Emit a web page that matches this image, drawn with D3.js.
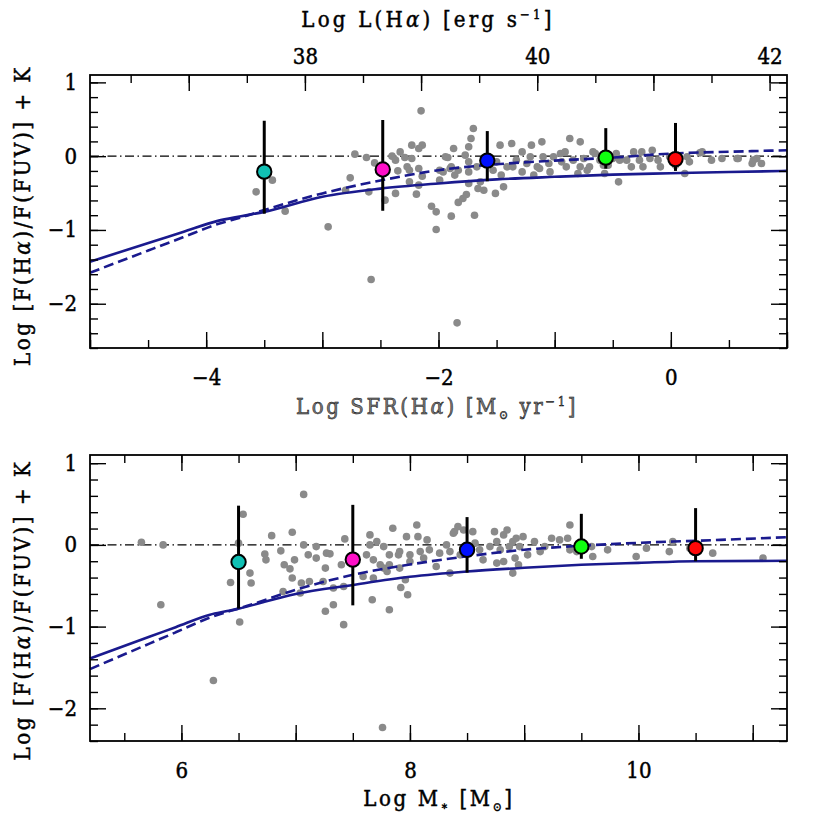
<!DOCTYPE html>
<html><head><meta charset="utf-8">
<script src="https://cdn.jsdelivr.net/npm/d3@7"></script>
<style>body{margin:0;background:#fff}svg{display:block}text{font-family:"DejaVu Serif Condensed","DejaVu Serif",serif}</style>
</head><body><svg id="c" width="830" height="830"></svg>
<script>
// ---- data ----
const binSFR  = [-3.50, -2.48, -1.58, -0.56, 0.04];
const binMass = [6.5, 7.5, 8.5, 9.5, 10.5];
const binMean = [-0.21, -0.18, -0.06, -0.02, -0.04];
const binHigh = [0.48, 0.49, 0.34, 0.38, 0.45];
const binLow  = [-0.78, -0.74, -0.34, -0.17, -0.20];
const binColors = ["#10c0b4", "#ff10c8", "#0010ff", "#10ff10", "#ff0808"];

// galaxies: [log SFR, log ratio]
const galSFR = [
[-3.43,-0.325],[-3.57,-0.484],[-3.32,-0.745],[-2.95,-0.958],[-2.72,0.027],[-2.62,-0.018],[-2.76,-0.294],[-2.80,-0.461],
[-2.60,-0.484],[-2.58,-1.671],[-2.55,-0.091],[-2.46,-0.596],[-2.15,0.614],[-2.23,0.149],[-2.14,0.149],[-2.17,0.104],
[-2.40,0.0],[-2.33,0.058],[-2.29,-0.018],[-2.37,-0.054],[-2.23,-0.031],[-2.35,-0.199],[-2.25,-0.19],[-2.17,-0.167],
[-2.14,-0.271],[-2.25,-0.348],[-2.17,-0.393],[-2.37,-0.505],[-2.19,-0.515],[-2.06,-0.678],[-2.02,-0.755],[-2.02,-0.993],
[-1.89,-0.813],[-1.83,-0.627],[-1.87,0.104],[-1.92,-0.018],[-1.99,-0.19],[-1.90,-0.167],[-1.99,-0.325],[-1.84,-2.259],
[-2.27,-0.145],[-1.79,-0.573],[-1.76,-0.519],[-1.69,-0.80],[-1.70,0.375],[-1.72,0.24],[-1.74,0.126],[-1.77,0.014],
[-1.74,-0.077],[-1.67,-0.145],[-1.74,-0.213],[-1.64,-0.348],[-1.66,-0.438],[-1.61,-0.461],[-1.74,-0.37],[-1.51,-0.505],
[-1.44,-0.416],[-1.46,-0.257],[-1.53,-0.19],[-1.47,0.149],[-1.37,0.172],[-1.50,-0.077],[-1.41,-0.145],[-1.36,-0.145],
[-1.28,0.058],[-1.33,-0.054],[-1.20,0.149],[-1.21,-0.009],[-1.24,-0.099],[-1.15,-0.145],[-1.18,-0.257],[-1.28,-0.213],
[-1.11,0.194],[-1.10,-0.009],[-1.05,-0.099],[-1.01,-0.009],[-0.94,-0.077],[-0.90,-0.145],[-0.87,0.24],[-0.95,0.037],
[-1.04,-0.213],[-1.13,-0.167],[-1.86,-0.257],[-1.83,-0.19],[-1.94,-0.009],[-1.89,-0.145],[-1.96,-0.213],[-0.78,0.194],
[-0.91,0.058],[-0.84,-0.054],[-0.78,-0.145],[-0.80,-0.235],[-0.67,0.058],[-0.47,0.037],[-0.45,-0.348],[-0.38,-0.054],
[-0.34,-0.145],[-0.25,0.058],[-0.27,-0.054],[-0.16,0.081],[-0.18,-0.031],[-0.11,-0.054],[-0.09,-0.145],[0.12,-0.235],
[0.16,-0.077],[0.27,0.058],[0.35,-0.054],[0.44,-0.031],[0.57,-0.031],[0.70,-0.099],[0.78,-0.099],[0.74,-0.031],
[-0.57,-0.235],[-0.75,-0.031],[-0.72,-0.19],[-0.70,-0.145],[-0.58,-0.122],[-0.50,-0.031],[-0.24,-0.145],[-0.01,-0.009],
[0.14,-0.009],[0.25,0.045],[0.58,-0.031],[0.71,-0.054],[-0.65,0.037],[-0.44,-0.054],[-0.32,0.058],[-0.61,-0.054],
[-0.54,-0.122],[0.04,-0.122]
];
// galaxies: [log M*, log ratio]
const galMass = [
[5.65,0.033],[5.84,0.0],[5.82,-0.732],[6.28,-1.659],[6.54,0.374],[6.50,0.021],[6.43,-0.46],[6.61,-0.467],[6.60,-0.345],
[6.51,-0.943],[6.79,0.113],[6.97,0.155],[6.73,-0.113],[6.74,-0.183],[6.87,-0.073],[6.90,-0.244],[6.95,-0.293],[6.99,-0.183],
[6.97,-0.406],[6.89,-0.57],[7.07,0.618],[7.07,0.0],[7.11,-0.122],[7.18,-0.021],[7.18,-0.162],[7.05,-0.467],[7.12,-0.448],
[7.04,-0.589],[7.24,-0.448],[7.27,-0.101],[7.30,-0.11],[7.26,-0.284],[7.33,-0.528],[7.26,-0.813],[7.42,-0.976],[7.40,-0.244],
[7.43,0.073],[7.42,-0.509],[7.33,-0.732],[7.67,-0.671],[7.82,-0.793],[7.92,-0.521],[7.98,-0.61],[7.76,-2.235],[7.65,0.122],
[7.71,0.04],[7.77,-0.021],[7.85,0.204],[7.97,0.101],[8.06,0.244],[8.07,0.101],[8.15,0.061],[7.62,-0.122],[7.68,-0.183],
[7.74,-0.244],[7.82,-0.122],[7.91,-0.082],[8.00,-0.122],[8.09,-0.082],[8.17,-0.061],[8.26,-0.101],[8.32,0.0],[8.38,0.143],
[7.65,0.0],[7.77,-0.284],[7.91,-0.284],[8.00,-0.204],[8.12,-0.162],[8.23,-0.265],[7.68,-0.406],[7.80,-0.326],[7.96,-0.427],
[7.90,-0.122],[7.82,-0.244],[7.59,-0.387],[8.35,-0.082],[8.39,0.162],[8.42,0.223],[8.35,-0.345],[8.44,-0.122],
[8.47,0.183],[8.55,0.162],[8.57,0.021],[8.61,-0.061],[8.64,-0.183],[8.70,-0.021],[8.74,0.162],[8.76,0.04],[8.79,-0.061],
[8.82,0.122],[8.85,0.183],[8.87,-0.021],[8.90,0.04],[8.93,0.082],[8.96,-0.021],[8.99,0.101],[8.92,-0.162],[8.95,-0.244],
[8.82,-0.204],[8.76,-0.223],[8.90,-0.345],[9.03,-0.122],[9.09,0.04],[9.14,-0.082],[9.18,-0.021],[9.24,0.082],[9.31,0.061],
[9.40,0.244],[9.38,0.082],[9.40,-0.061],[9.59,-0.021],[9.60,-0.143],[9.73,-0.061],[9.98,-0.143],[10.07,-0.04],[10.27,-0.082],
[10.30,0.04],[10.45,-0.04],[10.65,-0.101],[11.09,-0.162],[9.46,-0.082]
];
// model curves
const modelSFRx      = [-5.0, -4.45, -4.2, -3.9, -3.7, -3.5, -3.0, -2.5, -2.0, -1.5, -1.0, -0.5, 0.0, 0.5, 1.0];
const modelSFRsolid  = [-1.43, -1.153, -1.028, -0.877, -0.815, -0.755, -0.55, -0.44, -0.37, -0.315, -0.28, -0.25, -0.232, -0.215, -0.20];
const modelSFRdashed = [-1.58, -1.25, -1.10, -0.92, -0.83, -0.73, -0.505, -0.33, -0.19, -0.11, -0.06, -0.02, 0.035, 0.06, 0.08];
const modelMx        = [5.2, 5.725, 5.95, 6.25, 6.4, 6.5, 7.0, 7.5, 8.0, 8.5, 9.0, 9.5, 10.0, 10.5, 11.3];
const modelMsolid    = [-1.39, -1.122, -1.007, -0.854, -0.81, -0.78, -0.6, -0.49, -0.39, -0.325, -0.28, -0.244, -0.22, -0.20, -0.195];
const modelMdashed   = [-1.52, -1.205, -1.07, -0.89, -0.82, -0.78, -0.55, -0.366, -0.24, -0.14, -0.06, -0.01, 0.025, 0.05, 0.094];

// axis tick labels
const sfrTickLabels  = [-4, -2, 0];
const lumTickLabels  = [38, 40, 42];
const massTickLabels = [6, 8, 10];
const yTickLabels    = [1, 0, -1, -2];

// ---- drawing ----
const FONT = '"DejaVu Serif Condensed","DejaVu Serif",serif';
const svg = d3.select("#c");
const fmt = d => (d < 0 ? "\u2212" + Math.abs(d) : String(d));
const navy = "#1a1a8e";
const heavy = sel => sel.attr("stroke", "currentColor").attr("stroke-width", 0.45);

function panel(o) {
  const x = d3.scaleLinear().domain(o.xdom).range([90, 787]);
  const y = d3.scaleLinear().domain(o.ydom).range([o.bottom, o.top]);
  const g = svg.append("g");

  g.append("line").attr("x1", x.range()[0]).attr("x2", x.range()[1])
    .attr("y1", y(0)).attr("y2", y(0)).attr("stroke", "#000").attr("stroke-width", 1.3)
    .attr("stroke-dasharray", "9,3.5,1.5,3.5");

  g.selectAll("circle.gal").data(o.gal).join("circle").attr("class", "gal")
    .attr("cx", d => x(d[0])).attr("cy", d => y(d[1])).attr("r", 3.8).attr("fill", "#8a8a8a");

  const line = d3.line().x(d => x(d[0])).y(d => y(d[1])).curve(d3.curveMonotoneX);
  g.append("path").attr("d", line(o.mx.map((v, i) => [v, o.ms[i]])))
    .attr("fill", "none").attr("stroke", navy).attr("stroke-width", 2.6);
  g.append("path").attr("d", line(o.mx.map((v, i) => [v, o.md[i]])))
    .attr("fill", "none").attr("stroke", navy).attr("stroke-width", 2.6).attr("stroke-dasharray", "10,5");

  o.bx.forEach((bx, i) => {
    g.append("line").attr("x1", x(bx)).attr("x2", x(bx)).attr("y1", y(binHigh[i])).attr("y2", y(binLow[i]))
      .attr("stroke", "#000").attr("stroke-width", 3);
  });
  o.bx.forEach((bx, i) => {
    g.append("circle").attr("cx", x(bx)).attr("cy", y(binMean[i])).attr("r", 7.2)
      .attr("fill", binColors[i]).attr("stroke", "#000").attr("stroke-width", 2);
  });

  const noLab = () => "";
  const minorX = d3.range(Math.ceil(o.xdom[0] * 2) / 2, o.xdom[1] + 1e-9, 0.5);
  const majorX = d3.range(Math.ceil(o.xdom[0]), o.xdom[1] + 1e-9, 1);
  const minorY = d3.range(Math.ceil(o.ydom[0] * 5) / 5, o.ydom[1] + 1e-9, 0.2);
  const majorY = d3.range(Math.ceil(o.ydom[0]), o.ydom[1] + 1e-9, 1);
  const styleAxis = sel => { sel.attr("font-family", FONT); sel.select(".domain").remove();
    sel.selectAll("line").attr("stroke", "#000").attr("stroke-width", 1.4);
    sel.selectAll("text").attr("font-size", 22).attr("fill", "#000").call(heavy); };

  const bAx = g.append("g").attr("transform", `translate(0,${o.bottom})`);
  bAx.append("g").call(d3.axisBottom(x).tickValues(minorX).tickSize(-8).tickFormat(noLab)).call(styleAxis);
  bAx.append("g").call(d3.axisBottom(x).tickValues(majorX).tickSize(-16).tickPadding(21)
    .tickFormat(d => o.xlabels.includes(Math.round(d)) ? fmt(Math.round(d)) : "")).call(styleAxis);

  const tAx = g.append("g").attr("transform", `translate(0,${o.top})`);
  if (o.x2) {
    const x2 = d3.scaleLinear().domain(o.x2dom).range([90, 787]);
    const m2 = d3.range(Math.ceil(o.x2dom[0] * 2) / 2, o.x2dom[1] + 1e-9, 0.5);
    const M2 = d3.range(Math.ceil(o.x2dom[0]), o.x2dom[1] + 1e-9, 1);
    tAx.append("g").call(d3.axisTop(x2).tickValues(m2).tickSize(-8).tickFormat(noLab)).call(styleAxis);
    tAx.append("g").call(d3.axisTop(x2).tickValues(M2).tickSize(-16).tickPadding(11)
      .tickFormat(d => lumTickLabels.includes(Math.round(d)) ? String(Math.round(d)) : "")).call(styleAxis);
  } else {
    tAx.append("g").call(d3.axisTop(x).tickValues(minorX).tickSize(-8).tickFormat(noLab)).call(styleAxis);
    tAx.append("g").call(d3.axisTop(x).tickValues(majorX).tickSize(-16).tickFormat(noLab)).call(styleAxis);
  }
  const lAx = g.append("g").attr("transform", `translate(90,0)`);
  lAx.append("g").call(d3.axisLeft(y).tickValues(minorY).tickSize(-8).tickFormat(noLab)).call(styleAxis);
  lAx.append("g").call(d3.axisLeft(y).tickValues(majorY).tickSize(-16).tickPadding(13)
    .tickFormat(d => yTickLabels.includes(Math.round(d)) ? fmt(Math.round(d)) : "")).call(styleAxis);
  const rAx = g.append("g").attr("transform", `translate(787,0)`);
  rAx.append("g").call(d3.axisRight(y).tickValues(minorY).tickSize(-8).tickFormat(noLab)).call(styleAxis);
  rAx.append("g").call(d3.axisRight(y).tickValues(majorY).tickSize(-16).tickFormat(noLab)).call(styleAxis);

  g.append("rect").attr("x", 90).attr("y", o.top).attr("width", 697).attr("height", o.bottom - o.top)
    .attr("fill", "none").attr("stroke", "#000").attr("stroke-width", 1.8);

  const yl = g.append("text").attr("transform", `translate(30,${(o.top + o.bottom) / 2 + o.ylShift}) rotate(-90)`)
    .attr("text-anchor", "middle").attr("font-size", 22).attr("letter-spacing", 2.6).attr("fill", "#000").call(heavy);
  yl.append("tspan").text("Log [F(H");
  yl.append("tspan").attr("font-style", "italic").text("\u03b1");
  yl.append("tspan").text(")/F(FUV)] + K");
}

panel({ xdom: [-5, 1], ydom: [-2.6, 1.1], top: 75, bottom: 348, gal: galSFR, bx: binSFR,
  mx: modelSFRx, ms: modelSFRsolid, md: modelSFRdashed, xlabels: sfrTickLabels, x2: true, x2dom: [36.15, 42.15], ylShift: 4 });
panel({ xdom: [5.2, 11.3], ydom: [-2.4, 1.1], top: 455, bottom: 741, gal: galMass, bx: binMass,
  mx: modelMx, ms: modelMsolid, md: modelMdashed, xlabels: massTickLabels, x2: false, ylShift: 12 });

const t1 = svg.append("text").attr("x", 428).attr("y", 27).attr("text-anchor", "middle").attr("font-size", 22)
  .attr("letter-spacing", 3.2).attr("fill", "#000").call(heavy);
t1.append("tspan").text("Log L(H"); t1.append("tspan").attr("font-style", "italic").text("\u03b1");
t1.append("tspan").text(") [erg s"); t1.append("tspan").attr("font-size", 13).attr("dy", -8).text("\u22121");
t1.append("tspan").attr("dy", 8).text("]");

const t2 = svg.append("text").attr("x", 437).attr("y", 414).attr("text-anchor", "middle").attr("font-size", 22)
  .attr("letter-spacing", 2.6).attr("fill", "#7a7a7a").call(heavy);
t2.append("tspan").text("Log SFR(H"); t2.append("tspan").attr("font-style", "italic").text("\u03b1");
t2.append("tspan").text(") [M"); t2.append("tspan").attr("font-size", 12).attr("dy", 5).text("\u2299");
t2.append("tspan").attr("dy", -5).text(" yr"); t2.append("tspan").attr("font-size", 13).attr("dy", -8).text("\u22121");
t2.append("tspan").attr("dy", 8).text("]");

const t3 = svg.append("text").attr("x", 439).attr("y", 806).attr("text-anchor", "middle").attr("font-size", 22)
  .attr("letter-spacing", 2.6).attr("fill", "#000").call(heavy);
t3.append("tspan").text("Log M"); t3.append("tspan").attr("font-size", 12).attr("dy", 4).text("\u2217");
t3.append("tspan").attr("dy", -4).text(" [M"); t3.append("tspan").attr("font-size", 12).attr("dy", 5).text("\u2299");
t3.append("tspan").attr("dy", -5).text("]");
</script></body></html>
